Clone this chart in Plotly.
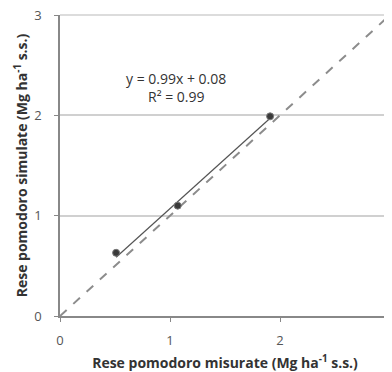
import plotly.graph_objects as go

measured = [0.51, 1.07, 1.91]
simulated = [0.63, 1.10, 1.99]
slope = 0.99
intercept = 0.08
r2 = 0.99
one_to_one = [0, 3]
tick_vals = [0, 1, 2, 3]

xmin, xmax = min(measured), max(measured)
reg_x = [xmin, xmax]
reg_y = [slope * v + intercept for v in reg_x]

FONT = "Open Sans, Lato, sans-serif"
GRID = "#d0d0d0"

fig = go.Figure()
fig.add_trace(go.Scatter(x=one_to_one, y=one_to_one, mode="lines",
                         line=dict(color="#8c8c8c", width=2, dash="dash"),
                         showlegend=False, hoverinfo="skip"))
fig.add_trace(go.Scatter(x=reg_x, y=reg_y, mode="lines",
                         line=dict(color="#555555", width=1.2),
                         showlegend=False))
fig.add_trace(go.Scatter(x=measured, y=simulated, mode="markers",
                         marker=dict(color="#3a3a3a", size=7,
                                     line=dict(color="#777777", width=1)),
                         showlegend=False))

fig.add_annotation(x=1.05, y=2.37, xref="x", yref="y",
                   text=f"y = {slope}x + {intercept}", showarrow=False,
                   font=dict(family=FONT, size=14, color="#333333"))
fig.add_annotation(x=1.05, y=2.19, xref="x", yref="y",
                   text=f"R² = {r2}", showarrow=False,
                   font=dict(family=FONT, size=14, color="#333333"))

# gridline along the top edge of the plot area (y = 3, the top of the range);
# paper refs so it is not clipped away at the edge
fig.add_shape(type="line", xref="paper", yref="paper", x0=0, x1=1, y0=1, y1=1,
              line=dict(color=GRID, width=1.5), layer="above")

axis_common = dict(tickvals=tick_vals, ticks="outside", ticklen=4,
                   tickcolor="#888888", tickfont=dict(family=FONT, size=13, color="#555555"),
                   showline=True, linecolor="#888888", linewidth=1.5,
                   zeroline=False, fixedrange=True, automargin=False,
                   ticklabeloverflow="allow")

fig.update_xaxes(**axis_common, range=[0, 3], showgrid=False, ticklabelstandoff=8,
                 title=dict(text="<b>Rese pomodoro misurate (Mg ha<sup>-1</sup> s.s.)</b>",
                            font=dict(family=FONT, size=14, color="#333333"), standoff=13))
fig.update_yaxes(**axis_common, range=[0, 3], showgrid=True, gridcolor=GRID, gridwidth=1.5,
                 ticklabelstandoff=10,
                 title=dict(text="<b>Rese pomodoro simulate (Mg ha<sup>-1</sup> s.s.)</b>",
                            font=dict(family=FONT, size=14, color="#333333"), standoff=3))

# page body has an 8px margin; shrink the figure so the plot area lands where the reference has it
fig.update_layout(width=384, height=364,
                  margin=dict(l=52, r=2, t=7, b=56),
                  plot_bgcolor="white", paper_bgcolor="white",
                  font=dict(family=FONT))

fig.write_html("out.html")
